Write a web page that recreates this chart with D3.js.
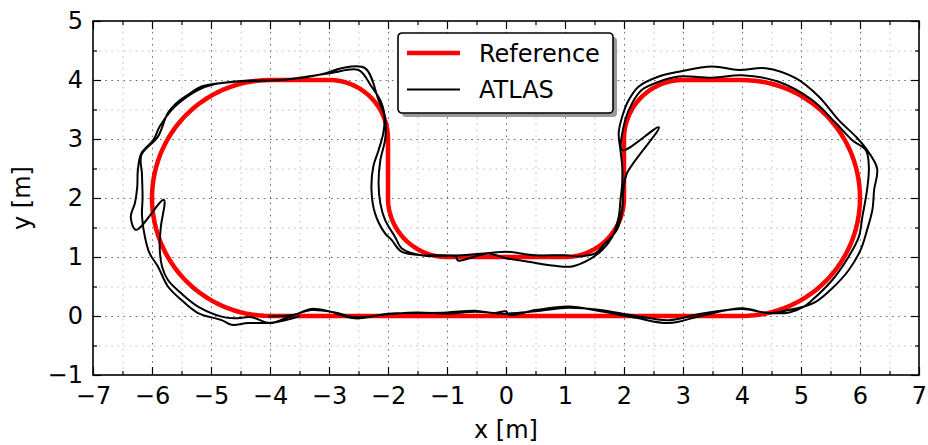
<!DOCTYPE html>
<html>
<head>
<meta charset="utf-8">
<script src="https://cdn.jsdelivr.net/npm/d3@7"></script>
<style>
  body { margin: 0; background: #fff; }
  svg text { font-family: "DejaVu Sans", sans-serif; fill: #000; }
</style>
</head>
<body>
<div id="chart"></div>
<script>
// axis ranges and ticks
var xMajor = [-7,-6,-5,-4,-3,-2,-1,0,1,2,3,4,5,6,7];
var yMajor = [-1,0,1,2,3,4,5];
var xMinor = [-6.5,-5.5,-4.5,-3.5,-2.5,-1.5,-0.5,0.5,1.5,2.5,3.5,4.5,5.5,6.5];
var yMinor = [-0.5,0.5,1.5,2.5,3.5,4.5];

// reference track pieces: straight lines and arcs (centre, radius, start/end angle in degrees)
var refPieces = [
  {type: "line", p0: [-4, 0], p1: [4, 0]},
  {type: "arc", cx: 4, cy: 2, r: 2, a0: -90, a1: 90},
  {type: "line", p0: [4, 4], p1: [3, 4]},
  {type: "arc", cx: 3, cy: 3, r: 1, a0: 90, a1: 180},
  {type: "line", p0: [2, 3], p1: [2, 2]},
  {type: "arc", cx: 1, cy: 2, r: 1, a0: 0, a1: -90},
  {type: "line", p0: [1, 1], p1: [-1, 1]},
  {type: "arc", cx: -1, cy: 2, r: 1, a0: -90, a1: -180},
  {type: "line", p0: [-2, 2], p1: [-2, 3]},
  {type: "arc", cx: -3, cy: 3, r: 1, a0: 0, a1: 90},
  {type: "line", p0: [-3, 4], p1: [-4, 4]},
  {type: "arc", cx: -4, cy: 2, r: 2, a0: 90, a1: 270}
];

// ATLAS estimate (two laps, counter-clockwise)
var atlasLap1 = [
  [-4.03,-0.01],[-3.6,0.02],[-3.3,0.12],[-3.0,0.08],[-2.56,-0.04],[-2.0,0.04],[-1.5,0.05],
  [-1.0,0.06],[-0.52,0.09],[-0.2,0.05],[0.0,0.08],[0.05,0.02],[0.5,0.1],[1.06,0.16],[1.6,0.08],
  [2.2,-0.03],[2.76,-0.12],[3.3,0.0],[4.0,0.13],[4.45,0.05],[4.79,0.10],[5.05,0.16],
  [5.25,0.24],[5.53,0.47],[5.81,0.78],[6.01,1.12],[6.12,1.46],[6.21,1.80],[6.24,2.14],
  [6.29,2.50],[6.10,2.84],[5.93,3.04],[5.64,3.32],[5.30,3.72],[4.91,4.03],[4.40,4.20],
  [3.95,4.17],[3.49,4.23],[2.93,4.14],[2.59,4.06],[2.25,3.89],[2.08,3.66],[1.97,3.38],
  [1.91,3.10],[1.94,2.81],[1.97,2.53],[1.97,2.25],[1.94,1.97],[1.91,1.68],[1.80,1.34],
  [1.63,1.12],[1.40,0.95],[1.12,0.84],[0.83,0.85],[0.38,0.92],[0.0,0.98],[-0.30,1.06],
  [-0.52,1.01],[-0.81,0.94],[-0.86,1.01],[-1.43,1.03],[-1.77,1.09],[-1.94,1.29],[-2.05,1.40],
  [-2.22,1.74],[-2.28,2.14],[-2.25,2.53],[-2.16,2.81],[-2.08,3.10],[-2.06,3.38],[-2.16,3.66],
  [-2.39,4.20],[-2.79,4.20],[-3.07,4.11],[-3.52,4.03],[-4.03,3.99],[-4.60,3.97],[-4.93,3.93],
  [-5.22,3.83],[-5.44,3.69],[-5.67,3.49],[-5.87,3.21],[-5.98,2.98],[-6.18,2.76],[-6.24,2.47],
  [-6.25,2.19],[-6.29,1.91],[-6.36,1.68],[-6.27,1.46],[-5.80,1.97],[-5.85,1.51],[-5.87,1.17],
  [-5.83,0.84],[-5.73,0.61],[-5.50,0.38],[-5.22,0.16],[-4.82,-0.01],[-4.60,-0.04],[-4.31,-0.02]
];
var atlasLap2 = [
  [-4.0,-0.12],[-3.64,0.0],[-3.3,0.1],[-2.9,0.06],[-2.56,-0.02],[-2.0,0.03],[-1.5,0.06],
  [-1.0,0.04],[-0.52,0.07],[0.0,0.04],[0.5,0.08],[1.06,0.14],[1.6,0.1],[2.2,0.0],[2.76,-0.07],
  [3.3,0.04],[4.0,0.12],[4.45,0.05],[4.8,0.06],[5.05,0.16],[5.19,0.27],[5.53,0.61],[5.81,1.01],
  [5.98,1.34],[6.04,1.68],[6.12,2.14],[6.15,2.53],[6.10,2.81],[5.87,2.98],[5.59,3.27],
  [5.19,3.66],[4.62,3.97],[4.0,4.08],[3.5,4.04],[2.93,4.06],[2.59,3.97],[2.30,3.83],
  [2.14,3.61],[2.02,3.32],[1.97,2.81],[2.59,3.20],[2.05,2.42],[1.99,2.14],[1.97,1.80],
  [1.88,1.46],[1.68,1.23],[1.51,1.06],[1.23,1.01],[1.0,1.03],[0.5,1.03],[0.0,1.09],
  [-0.24,1.07],[-0.75,1.03],[-1.43,1.03],[-1.77,1.15],[-1.88,1.34],[-2.05,1.63],[-2.13,1.91],
  [-2.16,2.25],[-2.13,2.64],[-2.05,2.98],[-2.04,3.27],[-2.11,3.61],[-2.28,3.89],[-2.50,4.17],
  [-2.96,4.12],[-3.30,4.07],[-3.8,4.0],[-4.37,3.99],[-4.82,3.95],[-5.16,3.89],[-5.39,3.75],
  [-5.56,3.63],[-5.73,3.44],[-5.90,3.04],[-6.18,2.73],[-6.17,2.4],[-6.16,2.0],[-6.17,1.7],
  [-6.12,1.34],[-6.04,1.06],[-5.90,0.84],[-5.73,0.50],[-5.50,0.27],[-5.22,0.05],[-4.82,-0.07],
  [-4.65,-0.15],[-4.37,-0.12],[-3.95,-0.11],[-3.7,-0.06],[-3.5,0.0]
];

var legendItems = [
  {label: "Reference", color: "red", width: 4.5},
  {label: "ATLAS", color: "black", width: 2}
];

var width = 928, height = 445;
var mLeft = 93, mRight = 919, mTop = 21, mBottom = 375;
var fontSize = 24;

var x = d3.scaleLinear().domain([-7, 7]).range([mLeft, mRight]);
var y = d3.scaleLinear().domain([-1, 5]).range([mBottom, mTop]);

var svg = d3.select("#chart").append("svg")
  .attr("width", width)
  .attr("height", height);

// grid (dotted, major darker than minor)
function grid(xs, ys, color) {
  var gx = svg.append("g")
    .attr("transform", "translate(0," + mBottom + ")")
    .call(d3.axisBottom(x).tickValues(xs).tickSize(-(mBottom - mTop)).tickFormat(""));
  gx.select(".domain").remove();
  gx.selectAll("line").attr("stroke", color).attr("stroke-width", 0.8).attr("stroke-dasharray", "1.6,4.5");
  var gy = svg.append("g")
    .attr("transform", "translate(" + mLeft + ",0)")
    .call(d3.axisLeft(y).tickValues(ys).tickSize(-(mRight - mLeft)).tickFormat(""));
  gy.select(".domain").remove();
  gy.selectAll("line").attr("stroke", color).attr("stroke-width", 0.8).attr("stroke-dasharray", "1.6,4.5");
}
grid(xMinor, yMinor, "#b0b0b0");
grid(xMajor.slice(1, -1), yMajor.slice(1, -1), "#444");

// reference track
var refPts = [];
refPieces.forEach(function(p) {
  if (p.type === "line") {
    refPts.push(p.p0, p.p1);
  } else {
    var n = 60;
    for (var i = 0; i <= n; i++) {
      var a = (p.a0 + (p.a1 - p.a0) * i / n) * Math.PI / 180;
      refPts.push([p.cx + p.r * Math.cos(a), p.cy + p.r * Math.sin(a)]);
    }
  }
});
refPts.push(refPts[0]);

var line = d3.line().x(function(d){ return x(d[0]); }).y(function(d){ return y(d[1]); });

svg.append("path")
  .datum(refPts)
  .attr("d", line)
  .attr("fill", "none")
  .attr("stroke", "red")
  .attr("stroke-width", 4.5)
  .attr("stroke-linejoin", "round");

svg.append("path")
  .datum(atlasLap1.concat(atlasLap2))
  .attr("d", line.curve(d3.curveCatmullRom.alpha(0.5)))
  .attr("fill", "none")
  .attr("stroke", "black")
  .attr("stroke-width", 2)
  .attr("stroke-linejoin", "round");

// axes (ticks inward on all sides)
function ticks(axis, tr, vals, size, fmt) {
  var g = svg.append("g").attr("transform", tr)
    .call(axis.tickValues(vals).tickSize(size).tickPadding(12).tickFormat(fmt));
  g.select(".domain").remove();
  g.selectAll("line").attr("stroke", "#000").attr("stroke-width", 1.2);
  g.selectAll("text").attr("font-size", fontSize).attr("font-family", "DejaVu Sans");
  return g;
}
var fmt = d3.format("d");
ticks(d3.axisBottom(x), "translate(0," + mBottom + ")", xMajor, -8, fmt);
ticks(d3.axisBottom(x), "translate(0," + mBottom + ")", xMinor, -4, "");
ticks(d3.axisTop(x), "translate(0," + mTop + ")", xMajor, -8, "");
ticks(d3.axisTop(x), "translate(0," + mTop + ")", xMinor, -4, "");
ticks(d3.axisLeft(y), "translate(" + mLeft + ",0)", yMajor, -8, fmt).call(function(g){
  g.selectAll(".tick text").attr("x", -10);
});
ticks(d3.axisLeft(y), "translate(" + mLeft + ",0)", yMinor, -4, "");
ticks(d3.axisRight(y), "translate(" + mRight + ",0)", yMajor, -8, "");
ticks(d3.axisRight(y), "translate(" + mRight + ",0)", yMinor, -4, "");

svg.append("rect")
  .attr("x", mLeft).attr("y", mTop)
  .attr("width", mRight - mLeft).attr("height", mBottom - mTop)
  .attr("fill", "none").attr("stroke", "#000").attr("stroke-width", 1.6);

// axis labels
svg.append("text")
  .attr("x", (mLeft + mRight) / 2).attr("y", 438)
  .attr("text-anchor", "middle").attr("font-size", fontSize)
  .text("x [m]");
svg.append("text")
  .attr("transform", "translate(30," + (mTop + mBottom) / 2 + ") rotate(-90)")
  .attr("text-anchor", "middle").attr("font-size", fontSize)
  .text("y [m]");

// legend
var lg = svg.append("g").attr("transform", "translate(398,33)");
lg.append("rect")
  .attr("x", 4).attr("y", 4).attr("width", 215).attr("height", 80)
  .attr("rx", 4).attr("fill", "#999");
lg.append("rect")
  .attr("width", 215).attr("height", 80).attr("rx", 4)
  .attr("fill", "#fff").attr("stroke", "#000").attr("stroke-width", 1.6);
var li = lg.selectAll(".item").data(legendItems).enter().append("g")
  .attr("transform", function(d, i){ return "translate(0," + (20 + i * 36.5) + ")"; });
li.append("line")
  .attr("x1", 9).attr("x2", 62)
  .attr("stroke", function(d){ return d.color; })
  .attr("stroke-width", function(d){ return d.width; });
li.append("text")
  .attr("x", 81).attr("dy", "0.36em")
  .attr("font-size", fontSize)
  .text(function(d){ return d.label; });
</script>
</body>
</html>
